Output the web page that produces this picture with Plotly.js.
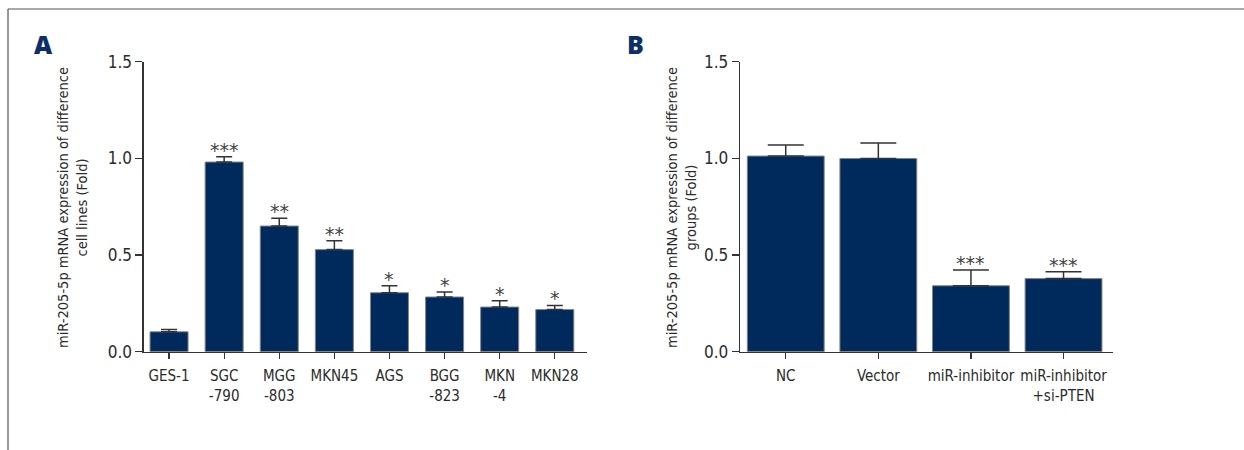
<!DOCTYPE html>
<html>
<head>
<meta charset="utf-8">
<script src="https://cdn.plot.ly/plotly-3.0.1.min.js"></script>
<style>html,body{margin:0;padding:0;background:#fff;}#chart{width:1244px;height:450px;}</style>
</head>
<body>
<div id="chart"></div>
<script>
// Panel A data
const catsA = ['GES-1', 'SGC<br>-790', 'MGG<br>-803', 'MKN45', 'AGS', 'BGG<br>-823', 'MKN<br>-4', 'MKN28'];
const valsA = [0.103, 0.981, 0.650, 0.528, 0.305, 0.283, 0.231, 0.218];
const errA  = [0.012, 0.028, 0.040, 0.046, 0.036, 0.026, 0.032, 0.021];
const sigA  = ['', '***', '**', '**', '*', '*', '*', '*'];

// Panel B data
const catsB = ['NC', 'Vector', 'miR-inhibitor', 'miR-inhibitor<br>+si-PTEN'];
const valsB = [1.012, 0.999, 0.341, 0.378];
const errB  = [0.057, 0.081, 0.082, 0.036];
const sigB  = ['', '', '***', '***'];

const yTicks = [0, 0.5, 1.0, 1.5];
const yTickText = ['0.0', '0.5', '1.0', '1.5'];

const W = 1244, H = 450;
const px = v => v / W;
const py = v => 1 - v / H;

const FONT = '"DejaVu Sans Condensed", "Liberation Sans", sans-serif';
const BAR = '#002a5c';
const TXT = '#2b2b2b';

const traceA = {
  type: 'bar', x: catsA, y: valsA, xaxis: 'x', yaxis: 'y', width: 0.69,
  marker: {color: BAR, line: {color: '#858585', width: 1}},
  error_y: {type: 'data', symmetric: false, array: errA, arrayminus: valsA.map(() => 0),
            color: '#333', thickness: 1.5, width: 8},
  hoverinfo: 'x+y'
};
const traceB = {
  type: 'bar', x: catsB, y: valsB, xaxis: 'x2', yaxis: 'y2', width: 0.83,
  marker: {color: BAR, line: {color: '#858585', width: 1}},
  error_y: {type: 'data', symmetric: false, array: errB, arrayminus: valsB.map(() => 0),
            color: '#333', thickness: 1.5, width: 18},
  hoverinfo: 'x+y'
};

function xAxis(domain, range, anchor) {
  return {
    domain: domain, range: range, type: 'category', anchor: anchor,
    showline: true, linecolor: '#333', linewidth: 1.3,
    ticks: 'outside', ticklen: 6, tickwidth: 1.3, tickcolor: '#333',
    tickangle: 0, ticklabelstandoff: 4,
    showgrid: false, zeroline: false, fixedrange: true,
    tickfont: {family: FONT, size: 15, color: TXT}
  };
}
function yAxis(anchor) {
  return {
    domain: [py(351.7), py(61.7)], range: [0, 1.5], anchor: anchor,
    tickvals: yTicks, ticktext: yTickText,
    showline: true, linecolor: '#333', linewidth: 1.3,
    ticks: 'outside', ticklen: 7, tickwidth: 1.3, tickcolor: '#333',
    showgrid: false, zeroline: false, fixedrange: true,
    tickfont: {family: FONT, size: 17, color: TXT}
  };
}

const annotations = [];
function addStars(cats, vals, errs, sigs, xr, yr) {
  cats.forEach((c, i) => {
    if (!sigs[i]) return;
    annotations.push({
      x: c, y: vals[i] + errs[i], xref: xr, yref: yr,
      text: sigs[i], showarrow: false, xanchor: 'center', yanchor: 'bottom',
      yshift: -6,
      font: {family: '"DejaVu Sans", sans-serif', size: 19, color: '#444'}
    });
  });
}
addStars(catsA, valsA, errA, sigA, 'x', 'y');
addStars(catsB, valsB, errB, sigB, 'x2', 'y2');

annotations.push({
  x: px(72), y: py(208), xref: 'paper', yref: 'paper', textangle: -90,
  text: 'miR-205-5p mRNA expression of difference<br>cell lines (Fold)',
  showarrow: false, xanchor: 'center', yanchor: 'middle',
  font: {family: FONT, size: 14.5, color: TXT}
});
annotations.push({
  x: px(681), y: py(208), xref: 'paper', yref: 'paper', textangle: -90,
  text: 'miR-205-5p mRNA expression of difference<br>groups (Fold)',
  showarrow: false, xanchor: 'center', yanchor: 'middle',
  font: {family: FONT, size: 14.5, color: TXT}
});
annotations.push({
  x: px(32), y: py(44), xref: 'paper', yref: 'paper', text: 'A',
  showarrow: false, xanchor: 'left', yanchor: 'middle',
  font: {family: '"Open Sans", "Liberation Sans", sans-serif', size: 25, weight: 800, color: '#0b2f66'}
});
annotations.push({
  x: px(625), y: py(44), xref: 'paper', yref: 'paper', text: 'B',
  showarrow: false, xanchor: 'left', yanchor: 'middle',
  font: {family: '"Open Sans", "Liberation Sans", sans-serif', size: 25, weight: 800, color: '#0b2f66'}
});

const layout = {
  width: W, height: H,
  margin: {l: 0, r: 0, t: 0, b: 0},
  paper_bgcolor: '#fff', plot_bgcolor: 'rgba(0,0,0,0)',
  showlegend: false, bargap: 0.3,
  xaxis: xAxis([px(143.7), px(587.3)], [-0.46, 7.59], 'y'),
  yaxis: yAxis('x'),
  xaxis2: xAxis([px(740), px(1112.7)], [-0.494, 3.531], 'y2'),
  yaxis2: yAxis('x2'),
  annotations: annotations,
  shapes: [
    {type: 'line', xref: 'paper', yref: 'paper', x0: px(8), x1: 1, y0: py(9), y1: py(9),
     line: {color: '#555', width: 1.2}},
    {type: 'line', xref: 'paper', yref: 'paper', x0: px(8), x1: px(8), y0: py(9), y1: 0,
     line: {color: '#555', width: 1.2}}
  ]
};

Plotly.newPlot('chart', [traceA, traceB], layout, {displayModeBar: false, staticPlot: true});
</script>
</body>
</html>
